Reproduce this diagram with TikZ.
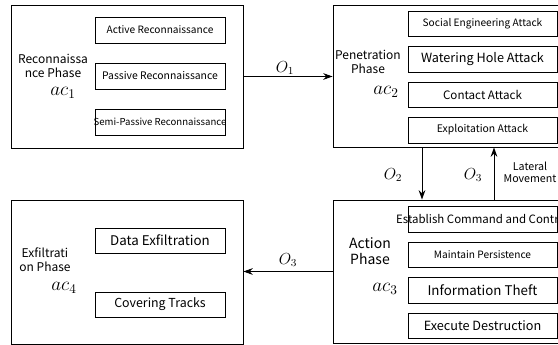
\documentclass[tikz,border=0pt]{standalone}
\usepackage{fontspec}
\setsansfont{Noto Sans CJK SC}
\usepackage{amsmath}
\usetikzlibrary{arrows.meta, positioning}
\newcommand{\fz}[1]{\fontsize{#1}{1.15\dimexpr #1pt\relax}\selectfont}

\begin{document}
\begin{tikzpicture}[x=0.75pt,y=0.75pt,yscale=-1,xscale=1,
	phase/.style={draw, line width=0.7pt, inner sep=0pt},
	subbox/.style={draw, line width=0.7pt, inner sep=0pt},
	flow/.style={line width=0.7pt, -{Stealth[length=7pt,width=5pt]}},
	tag/.style={font=\sffamily, align=center, inner sep=0pt},
	]
	\clip (0,0) rectangle (558,345);

	%outer phase boxes
	\node [phase, minimum width=173.6pt, minimum height=107.25pt] (recon) at (127.25,76.5) {};
	\node [phase, minimum width=202.5pt, minimum height=106.5pt] (pene) at (468,76) {};
	\node [phase, minimum width=202.5pt, minimum height=107.25pt] (action) at (468,271.5) {};
	\node [phase, minimum width=173.6pt, minimum height=108pt] (exfil) at (127.25,272) {};

	%reconnaissance phase
	\node [tag, font=\sffamily\fz{9}] (reconT) at (53,66) {Reconnaissa\\nce Phase};
	\node [inner sep=0pt, font=\fz{14}] (ac1) at (63,93) {$ac_1$};
	\node [subbox, minimum width=97.5pt, minimum height=19.5pt, label={[tag, font=\sffamily\fz{7.6}]center:Active Reconnaissance}] (r1) at (160,30) {};
	\node [subbox, minimum width=97.5pt, minimum height=19.5pt, label={[tag, font=\sffamily\fz{7.8}]center:Passive Reconnaissance}] (r2) at (160,76) {};
	\node [subbox, minimum width=97.5pt, minimum height=19.5pt, label={[tag, font=\sffamily\fz{7.2}]center:Semi-Passive Reconnaissance}] (r3) at (160,122) {};

	%penetration phase
	\node [tag, font=\sffamily\fz{9}] (peneT) at (368,62) {Penetration\\Phase};
	\node [inner sep=0pt, font=\fz{14}] (ac2) at (386,92) {$ac_2$};
	\node [subbox, minimum width=111.75pt, minimum height=18.75pt, label={[tag, font=\sffamily\fz{7.6}]center:Social Engineering Attack}] (p1) at (482.5,23.5) {};
	\node [subbox, minimum width=111.75pt, minimum height=19.5pt, label={[tag, font=\sffamily\fz{9.5}]center:Watering Hole Attack}] (p2) at (482.5,59) {};
	\node [subbox, minimum width=111.75pt, minimum height=18.75pt, label={[tag, font=\sffamily\fz{8.7}]center:Contact Attack}] (p3) at (482.5,94.5) {};
	\node [subbox, minimum width=111.75pt, minimum height=19.5pt, label={[tag, font=\sffamily\fz{7.8}]center:Exploitation Attack}] (p4) at (482.5,130) {};

	%action phase
	\node [tag, font=\sffamily\fz{10.5}] (actionT) at (370,251) {Action\\Phase};
	\node [inner sep=0pt, font=\fz{14}] (ac3) at (385,289) {$ac_3$};
	\node [subbox, minimum width=111.75pt, minimum height=19.5pt, label={[tag, font=\sffamily\fz{8.6}]center:Establish Command and Control}] (a1) at (482.5,219) {};
	\node [subbox, minimum width=111.75pt, minimum height=18.75pt, label={[tag, font=\sffamily\fz{7.6}]center:Maintain Persistence}] (a2) at (482.5,254.5) {};
	\node [subbox, minimum width=111.75pt, minimum height=19.5pt, label={[tag, font=\sffamily\fz{10}]center:Information Theft}] (a3) at (482.5,290) {};
	\node [subbox, minimum width=111.75pt, minimum height=18.75pt, label={[tag, font=\sffamily\fz{9.5}]center:Execute Destruction}] (a4) at (482.5,325.5) {};

	%exfiltration phase
	\node [tag, font=\sffamily\fz{9}] (exfilT) at (45,259.5) {Exfiltrati\\on Phase};
	\node [inner sep=0pt, font=\fz{14}] (ac4) at (64,288) {$ac_4$};
	\node [subbox, minimum width=97.5pt, minimum height=18.75pt, label={[tag, font=\sffamily\fz{10}]center:Data Exfiltration}] (e1) at (160,240.5) {};
	\node [subbox, minimum width=97.5pt, minimum height=18.75pt, label={[tag, font=\sffamily\fz{9.3}]center:Covering Tracks}] (e2) at (160,304.5) {};

	%transitions
	\coordinate (down) at (422,0);
	\coordinate (up) at (494,0);
	\draw [flow] (recon.east) -- (recon.east -| pene.west);
	\draw [flow] (down |- pene.south) -- (down |- action.north);
	\draw [flow] (up |- action.north) -- (up |- pene.south);
	\draw [flow] (action.west) -- (action.west -| exfil.east);

	% Text Node
	\node [inner sep=0pt, font=\fz{12}] (o1) at (285,68) {$O_1$};
	\node [inner sep=0pt, font=\fz{12}] (o2) at (393,175) {$O_2$};
	\node [inner sep=0pt, font=\fz{12}] (o3u) at (473,175) {$O_3$};
	\node [inner sep=0pt, font=\fz{12}] (o3l) at (288,260) {$O_3$};
	\node [tag, font=\sffamily\fz{8}] (lateral) at (530,172) {Lateral\\Movement};
\end{tikzpicture}
\end{document}
